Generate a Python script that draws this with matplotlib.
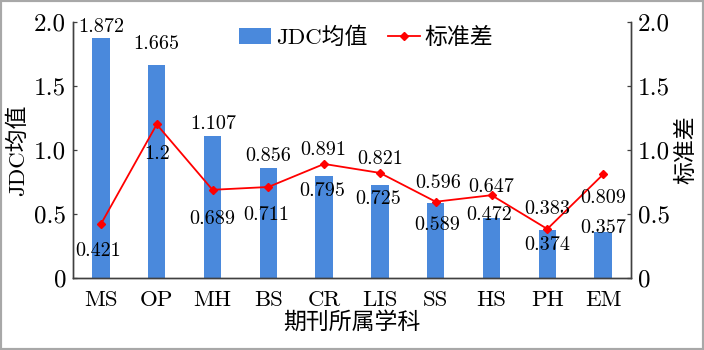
import matplotlib
matplotlib.use("Agg")
import matplotlib.pyplot as plt
from matplotlib.patches import Rectangle
import numpy as np

plt.rcParams['font.family'] = ['cmr10', 'Noto Sans CJK SC', 'DejaVu Sans']
plt.rcParams['axes.formatter.use_mathtext'] = True

categories = ["MS", "OP", "MH", "BS", "CR", "LIS", "SS", "HS", "PH", "EM"]
jdc_mean = [1.872, 1.665, 1.107, 0.856, 0.795, 0.725, 0.589, 0.472, 0.374, 0.357]
std_dev = [0.421, 1.2, 0.689, 0.711, 0.891, 0.821, 0.596, 0.647, 0.383, 0.809]
mean_labels = ["1.872", "1.665", "1.107", "0.856", "0.795", "0.725", "0.589", "0.472", "0.374", "0.357"]
std_labels = ["0.421", "1.2", "0.689", "0.711", "0.891", "0.821", "0.596", "0.647", "0.383", "0.809"]
y_ticks = [0, 0.5, 1.0, 1.5, 2.0]
y_tick_labels = ["0", "0.5", "1.0", "1.5", "2.0"]

# label offsets in pixels (dx, dy) relative to each mark
mean_off = [(0, 11), (0, 21), (1, 12), (0, 12), (-2, -15), (-2, -14), (1, -22), (-2, 3), (0, -15), (0, 4)]
std_off = [(-3, -27), (0, -30), (0, -29), (-2, -28), (-1, 14), (0, 14), (2, 19), (0, 8), (0, 20), (0, -24)]

fig = plt.figure(figsize=(7.04, 3.5), dpi=100)
ax = fig.add_axes([73 / 704, 72 / 350, 558 / 704, 256 / 350])
ax2 = ax.twinx()

x = np.arange(len(categories))
axis_color = "#404040"
bars = ax.bar(x, jdc_mean, width=0.31, color="#4A89DC", label="JDC均值", zorder=2)
line, = ax2.plot(x, std_dev, color="#FF0000", lw=1.3, marker="D", ms=4.5,
                 label="标准差", zorder=3)

for a in (ax, ax2):
    a.set_ylim(0, 2.0)
    a.set_xlim(-0.5, 9.5)
    a.set_yticks(y_ticks)
    a.set_yticklabels(y_tick_labels)
    a.tick_params(axis="y", direction="in", length=3, width=0.9, colors=axis_color,
                  labelcolor="black", labelsize=18, pad=5)
    for s in ("left", "right", "bottom"):
        a.spines[s].set_color(axis_color)
        a.spines[s].set_linewidth(1.0)
    a.spines["top"].set_visible(False)

ax.set_xticks(x)
ax.set_xticklabels(categories)
ax.tick_params(axis="x", length=0, labelsize=16.5, pad=9)
ax.set_xlabel("期刊所属学科", fontsize=16.5, labelpad=1)
ax.set_ylabel("JDC均值", fontsize=16.5, labelpad=4)
ax2.set_ylabel("标准差", fontsize=16.5, labelpad=4, rotation=90)

for i in range(len(categories)):
    ax.annotate(mean_labels[i], (x[i], jdc_mean[i]), xytext=mean_off[i],
                textcoords="offset pixels", ha="center", va="center", fontsize=14.5, zorder=5)
    ax2.annotate(std_labels[i], (x[i], std_dev[i]), xytext=std_off[i],
                 textcoords="offset pixels", ha="center", va="center", fontsize=14.5, zorder=5)

ax2.legend([bars, line], ["JDC均值", "标准差"], loc="center", bbox_to_anchor=(0.525, 0.94),
           ncol=2, frameon=False, fontsize=16.5, handlelength=1.4, handletextpad=0.2,
           columnspacing=0.9, borderaxespad=0)

fig.patches.append(Rectangle((0, 0), 1, 1, transform=fig.transFigure, fill=False,
                             edgecolor="#A8A8A8", linewidth=3))

fig.savefig("out.png", dpi=100)
